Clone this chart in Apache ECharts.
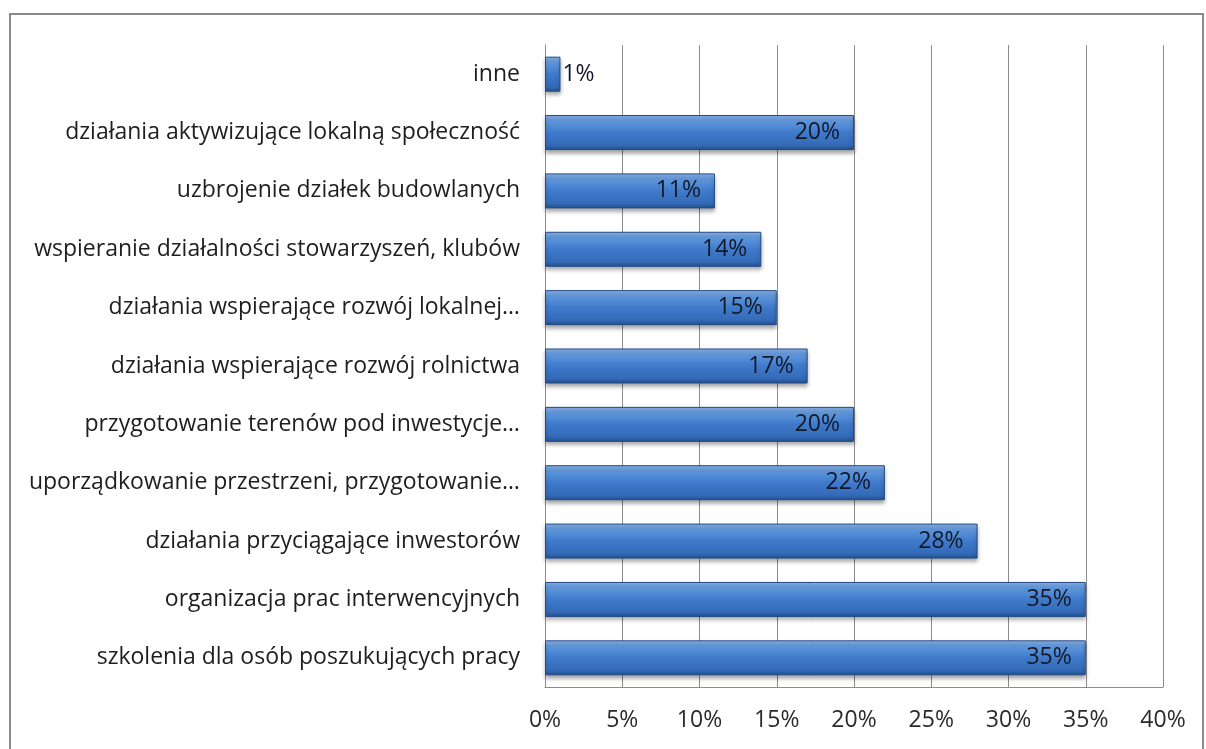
<!DOCTYPE html>
<html>
<head>
<meta charset="utf-8">
<script src="https://cdn.jsdelivr.net/npm/echarts@6/dist/echarts.min.js"></script>
<style>
  html, body { margin: 0; padding: 0; background: #fff; }
  #chart { width: 1206px; height: 749px; }
</style>
</head>
<body>
<div id="chart"></div>
<script>
// kategorie od dołu do góry (oś kategorii w ECharts zaczyna od dołu)
const categories = [
  'szkolenia dla osób poszukujących pracy',
  'organizacja prac interwencyjnych',
  'działania przyciągające inwestorów',
  'uporządkowanie przestrzeni, przygotowanie…',
  'przygotowanie terenów pod inwestycje…',
  'działania wspierające rozwój rolnictwa',
  'działania wspierające rozwój lokalnej…',
  'wspieranie działalności stowarzyszeń, klubów',
  'uzbrojenie działek budowlanych',
  'działania aktywizujące lokalną społeczność',
  'inne'
];
const values = [35, 35, 28, 22, 20, 17, 15, 14, 11, 20, 1];
const xTicks = [0, 5, 10, 15, 20, 25, 30, 35, 40];

const chart = echarts.init(document.getElementById('chart'));

const barColor = {
  type: 'linear', x: 0, y: 0, x2: 0, y2: 1,
  colorStops: [
    { offset: 0, color: '#8db4ea' },
    { offset: 0.18, color: '#5f97dc' },
    { offset: 0.5, color: '#3f7acb' },
    { offset: 0.85, color: '#346bb8' },
    { offset: 1, color: '#24508f' }
  ]
};

chart.setOption({
  textStyle: { fontFamily: 'Open Sans' },
  graphic: [{
    type: 'rect',
    shape: { x: 10, y: 14, width: 1193, height: 800 },
    style: { fill: 'none', stroke: '#8a8a8a', lineWidth: 2 },
    silent: true
  }],
  grid: { left: 545, right: 43, top: 45, bottom: 62 },
  xAxis: {
    type: 'value',
    min: xTicks[0],
    max: xTicks[xTicks.length - 1],
    interval: 5,
    axisLine: { show: true, lineStyle: { color: '#8c8c8c', width: 1 } },
    axisTick: { show: false },
    axisLabel: {
      formatter: v => v + '%',
      color: '#2a2a2a',
      fontSize: 23,
      margin: 22
    },
    splitLine: { lineStyle: { color: '#8c8c8c', width: 1 } }
  },
  yAxis: {
    type: 'category',
    data: categories,
    axisLine: { show: true, lineStyle: { color: '#8c8c8c' } },
    axisTick: { show: false },
    axisLabel: { color: '#1e1e1e', fontSize: 23, margin: 25 }
  },
  series: [{
    type: 'bar',
    barWidth: 35,
    data: values.map(v => ({
      value: v,
      label: v < 3 ? { position: 'right', distance: 2 } : undefined
    })),
    itemStyle: {
      color: barColor,
      borderColor: '#234a85',
      borderWidth: 1,
      shadowColor: 'rgba(0,0,0,0.35)',
      shadowBlur: 4,
      shadowOffsetY: 3
    },
    label: {
      show: true,
      position: 'insideRight',
      distance: 14,
      formatter: p => p.value + '%',
      color: '#111827',
      fontSize: 23
    }
  }]
});
</script>
</body>
</html>
